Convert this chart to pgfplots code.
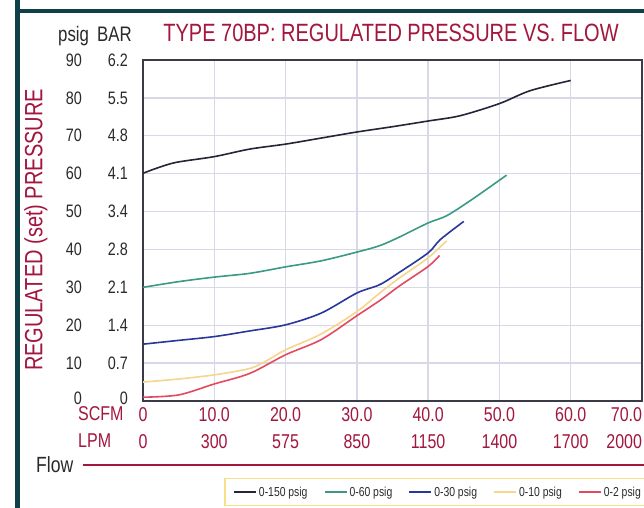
\documentclass[border=0pt]{standalone}
\usepackage{fontspec}
\setmainfont{Liberation Sans}[FakeStretch=0.8]
\usepackage{pgfplots}
\pgfplotsset{compat=1.18}

\definecolor{crim}{HTML}{A3173F}
\definecolor{framec}{HTML}{0F3F48}
\definecolor{axisc}{HTML}{3A3A48}
\definecolor{gridc}{HTML}{D8D8E6}
\definecolor{textc}{HTML}{2A2A2A}
\definecolor{legy}{HTML}{F8E08A}
\definecolor{cblack}{HTML}{25253A}
\definecolor{cgreen}{HTML}{3A9A84}
\definecolor{cblue}{HTML}{28389A}
\definecolor{cyellow}{HTML}{F6D58C}
\definecolor{cred}{HTML}{E24A60}

\begin{document}
\begin{tikzpicture}
\useasboundingbox (0,0) rectangle (644bp,508bp);
\fill[white] (0,0) rectangle (644bp,508bp);
% frame
\fill[framec] (15bp,0) rectangle (20bp,508bp);
\fill[framec] (15bp,495bp) rectangle (644bp,499bp);

\begin{axis}[
	at={(143bp,107bp)}, anchor=south west,
	scale only axis, width=499bp, height=341bp,
	xmin=0, xmax=70, ymin=0, ymax=90,
	xtick={0,10,...,70}, ytick={0,10,...,90},
	grid=major,
	major grid style={gridc, line width=1.4bp},
	axis line style={axisc, line width=2bp},
	major tick length=0pt,
	/pgf/number format/assume math mode=true,
	xticklabels={0\\0, 10.0\\300, 20.0\\575, 30.0\\850, 40.0\\1150, 50.0\\1400, 60.0\\1700,
		{\makebox[0pt][r]{70.0}\\\makebox[0pt][r]{2000}}},
	xticklabel style={font=\fontsize{20bp}{27bp}\selectfont, text=crim, align=center,
		anchor=north, inner sep=0pt, yshift=-6bp},
	yticklabels={
		\raisebox{5bp}{\makebox[20bp][r]{0}\makebox[46bp][r]{0}},
		\makebox[20bp][r]{10}\makebox[46bp][r]{0.7},
		\makebox[20bp][r]{20}\makebox[46bp][r]{1.4},
		\makebox[20bp][r]{30}\makebox[46bp][r]{2.1},
		\makebox[20bp][r]{40}\makebox[46bp][r]{2.8},
		\makebox[20bp][r]{50}\makebox[46bp][r]{3.4},
		\makebox[20bp][r]{60}\makebox[46bp][r]{4.1},
		\makebox[20bp][r]{70}\makebox[46bp][r]{4.8},
		\makebox[20bp][r]{80}\makebox[46bp][r]{5.5},
		\makebox[20bp][r]{90}\makebox[46bp][r]{6.2}},
	yticklabel style={font=\fontsize{18bp}{20bp}\selectfont, text=textc,
		anchor=east, inner sep=0pt, xshift=-15bp},
	legend columns=5,
	legend style={at={(axis description cs:0.591,-0.267)}, anchor=center,
		draw=legy, line width=1.8bp, fill=white,
		font=\fontsize{13bp}{15bp}\selectfont, text=textc,
		inner xsep=8bp, inner ysep=6bp,
		/tikz/every even column/.append style={column sep=14bp}},
	legend image code/.code={\draw[#1, line width=2bp] (0bp,0bp) -- (22bp,0bp);},
]

\addplot[cblack, line width=1.6bp, smooth, no markers] coordinates {
(0,60.1) (2,61.5) (4.7,63) (10,64.5) (15,66.5) (20,67.8) (25,69.4) (30,71)
(35,72.4) (40,73.9) (44.5,75.3) (50,78.5) (54.3,81.9) (60,84.6)
};
\addlegendentry{0-150 psig}

\addplot[cgreen, line width=1.6bp, smooth, no markers] coordinates {
(0,30) (5,31.5) (10,32.7) (15,33.7) (20,35.4) (25,37) (30,39.3) (33.2,41)
(36,43.3) (40,47) (42.6,48.9) (46,53) (51,59.6)
};
\addlegendentry{0-60 psig}

\addplot[cblue, line width=1.6bp, smooth, no markers] coordinates {
(0,15) (5,16) (10,17) (15,18.5) (20,20.1) (25,23.2) (30,28.5) (33.2,30.7)
(36,34) (40,39.1) (41.7,42.6) (45,47.4)
};
\addlegendentry{0-30 psig}

\addplot[cyellow, line width=1.6bp, smooth, no markers] coordinates {
(0,5) (5,5.8) (10,6.9) (15,8.6) (17.5,10.8) (20,13.5) (25,17.7) (30,23.6)
(33.2,28.5) (36,32.5) (40,37.8) (42.6,42.3)
};
\addlegendentry{0-10 psig}

\addplot[cred, line width=1.6bp, smooth, no markers] coordinates {
(0,1) (5,1.6) (10,4.5) (15,7.3) (20,12.2) (25,16.2) (30,22.5) (33.2,26.5)
(36,30.4) (40,35.5) (41.6,38.4)
};
\addlegendentry{0-2 psig}

\end{axis}

% titles and labels
\node[text=crim, font=\fontsize{25bp}{30bp}\selectfont, inner sep=0pt]
	at (391bp,475.5bp) {TYPE 70BP: REGULATED PRESSURE VS. FLOW};
\node[text=textc, font=\fontsize{21bp}{24bp}\selectfont, inner sep=0pt, anchor=base west]
	at (58bp,466bp) {psig};
\node[text=textc, font=\fontsize{21bp}{24bp}\selectfont, inner sep=0pt, anchor=base west]
	at (97bp,466bp) {BAR};
\node[text=crim, font=\fontsize{25bp}{30bp}\selectfont, inner sep=0pt, rotate=90]
	at (36bp,278bp) {REGULATED (set) PRESSURE};
\node[text=crim, font=\fontsize{20bp}{24bp}\selectfont, inner sep=0pt, anchor=base west]
	at (78bp,87bp) {SCFM};
\node[text=crim, font=\fontsize{20bp}{24bp}\selectfont, inner sep=0pt, anchor=base west]
	at (78bp,60bp) {LPM};
\node[text=textc, font=\fontsize{22bp}{24bp}\selectfont, inner sep=0pt, anchor=base west]
	at (36bp,36bp) {Flow};
\draw[crim, line width=2bp] (83bp,43bp) -- (644bp,43bp);
\end{tikzpicture}
\end{document}
